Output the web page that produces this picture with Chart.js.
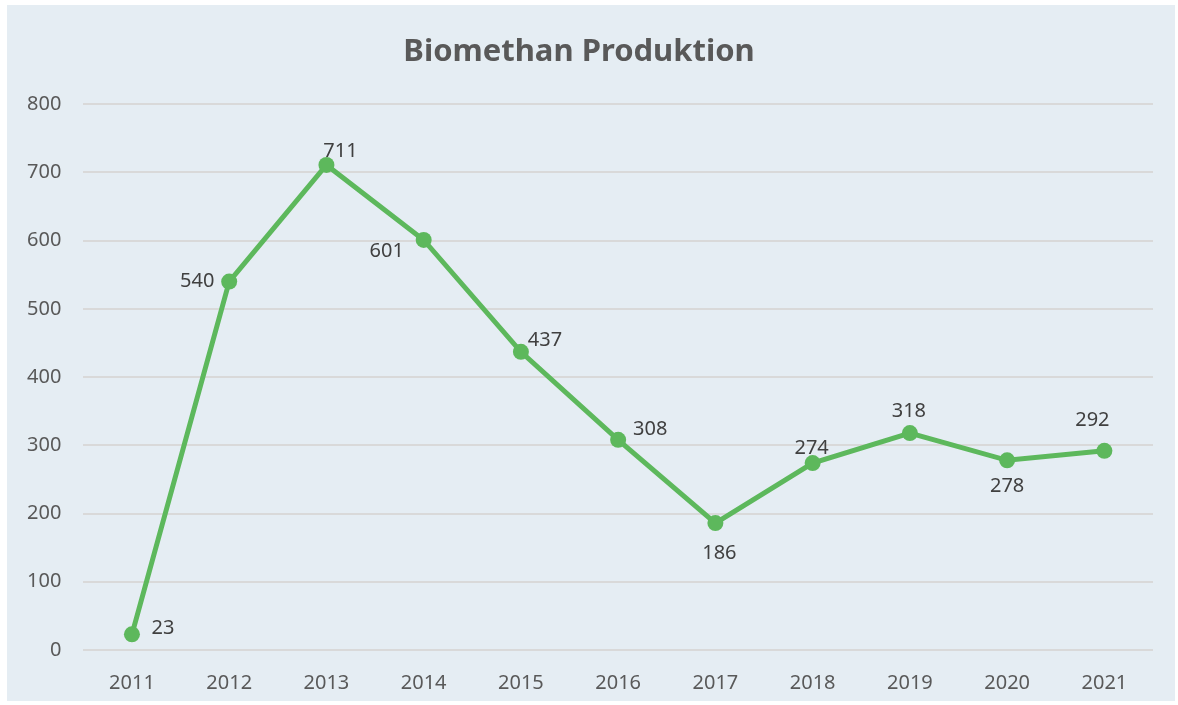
<!DOCTYPE html>
<html>
<head>
<meta charset="utf-8">
<script src="https://cdn.jsdelivr.net/npm/chart.js@4"></script>
<style>
  html, body { margin: 0; padding: 0; background: #ffffff; }
  #wrap { width: 1178px; height: 705px; position: relative; }
</style>
</head>
<body>
<div id="wrap"><canvas id="chart" width="1178" height="705"></canvas></div>
<script>
// Daten
const years = ['2011', '2012', '2013', '2014', '2015', '2016', '2017', '2018', '2019', '2020', '2021'];
const production = [23, 540, 711, 601, 437, 308, 186, 274, 318, 278, 292];
const yTicks = [0, 100, 200, 300, 400, 500, 600, 700, 800];

// Position der Datenbeschriftung relativ zum Punkt (dx, dy in px)
const labelOffsets = [[31, -6], [-32, 0], [14, -14], [-37, 11], [24, -12], [32, -11],
                      [4, 30], [-1, -15], [-1, -22], [0, 26], [-12, -30]];

const FONT = "'Noto Sans', 'Open Sans', sans-serif";

// Hintergrund des Diagramms
const bgPlugin = {
  id: 'bg',
  beforeDraw(chart) {
    const ctx = chart.ctx;
    ctx.save();
    ctx.fillStyle = '#e5edf3';
    ctx.fillRect(7, 5, chart.width - 10, chart.height - 9);
    ctx.restore();
  }
};

// einfache Datenbeschriftung
const labelPlugin = {
  id: 'labels',
  afterDatasetsDraw(chart) {
    const ctx = chart.ctx;
    const meta = chart.getDatasetMeta(0);
    ctx.save();
    ctx.font = '20px ' + FONT;
    ctx.fillStyle = '#404040';
    ctx.textAlign = 'center';
    ctx.textBaseline = 'middle';
    meta.data.forEach((pt, i) => {
      const [dx, dy] = labelOffsets[i];
      ctx.fillText(String(production[i]), pt.x + dx, pt.y + dy);
    });
    ctx.restore();
  }
};

new Chart(document.getElementById('chart'), {
  type: 'line',
  data: {
    labels: years,
    datasets: [{
      data: production,
      borderColor: '#5db85c',
      backgroundColor: '#5db85c',
      borderWidth: 5,
      pointRadius: 8,
      pointBorderWidth: 0,
      tension: 0
    }]
  },
  options: {
    responsive: false,
    animation: false,
    layout: { padding: { left: 5, right: 25, top: 12, bottom: -11 } },
    plugins: {
      legend: { display: false },
      tooltip: { enabled: false },
      title: {
        display: true,
        text: 'Biomethan Produktion',
        color: '#595959',
        font: { family: FONT, size: 31, weight: 'bold' },
        padding: { top: 22, bottom: 33 }
      }
    },
    scales: {
      x: {
        offset: true,
        grid: { display: false, drawTicks: false },
        border: { display: false },
        ticks: { color: '#595959', font: { family: FONT, size: 20 }, padding: 21, maxRotation: 0 }
      },
      y: {
        min: 0,
        max: 800,
        afterBuildTicks(axis) { axis.ticks = yTicks.map(v => ({ value: v })); },
        grid: { color: '#d9d9d9', lineWidth: 2, drawTicks: false },
        border: { display: false },
        ticks: { color: '#595959', font: { family: FONT, size: 20 }, padding: 22 }
      }
    }
  },
  plugins: [bgPlugin, labelPlugin]
});
</script>
</body>
</html>
